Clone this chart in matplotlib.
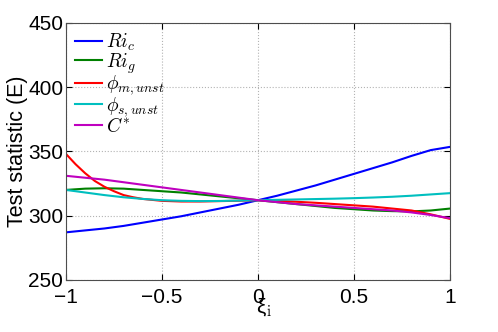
import numpy as np
import matplotlib
matplotlib.use('Agg')
import matplotlib.pyplot as plt

plt.rcParams['font.family'] = ['Liberation Sans', 'DejaVu Sans']
plt.rcParams['mathtext.fontset'] = 'cm'

# values
xi = [-1.0, -0.9, -0.8, -0.7, -0.6, -0.5, -0.4, -0.3, -0.2, -0.1, 0.0,
      0.1, 0.2, 0.3, 0.4, 0.5, 0.6, 0.7, 0.8, 0.9, 1.0]
ri_c = [287, 288.5, 290, 292, 294.5, 297, 299.5, 302.5, 305.5, 308.5, 312,
        315.5, 319.5, 323.5, 328, 332.5, 337, 341.5, 346.5, 351, 353.5]
ri_g = [320, 321, 321.3, 321, 320, 319, 318, 316.5, 315, 313.5, 312,
        310.5, 309, 307.5, 306, 305, 304, 303.5, 303.3, 304, 305.5]
phi_s = [320, 318, 316, 314.3, 313, 312, 311.5, 311.3, 311.4, 311.7, 312,
         312.3, 312.6, 312.9, 313.2, 313.6, 314.1, 314.7, 315.5, 316.5, 317.5]
c_star = [331, 329.5, 328, 326, 324, 322, 320, 318, 316, 314, 312,
          310.5, 309, 308, 307, 306, 305, 304, 302.5, 300.5, 298]

xi_m = [-1.0, -0.95, -0.9, -0.85, -0.8, -0.75, -0.7, -0.65, -0.6, -0.5, -0.4,
        -0.3, -0.2, -0.1, 0.0, 0.1, 0.2, 0.3, 0.4, 0.5, 0.6, 0.7, 0.8, 0.9, 1.0]
phi_m = [348, 340, 333, 327, 322.5, 319, 316, 314.3, 313, 311.5, 311,
         311, 311.3, 311.6, 312, 311.5, 310.8, 310, 309, 308, 307, 305.5, 304, 301, 297.5]

fig = plt.figure(figsize=(4.98, 3.32), dpi=100)
ax = fig.add_axes([0.1325, 0.157, 0.771, 0.774])

lw = 1.5
ax.plot(xi, ri_c, color='#0000ff', lw=lw, label=r'$Ri_c$')
ax.plot(xi, ri_g, color='#008000', lw=lw, label=r'$Ri_g$')
ax.plot(xi_m, phi_m, color='#ff0000', lw=lw, label=r'$\phi_{m,unst}$')
ax.plot(xi, phi_s, color='#00bfbf', lw=lw, label=r'$\phi_{s,unst}$')
ax.plot(xi, c_star, color='#bf00bf', lw=lw, label=r'$C^{*}$')

ax.set_xlim(-1, 1)
ax.set_ylim(250, 450)
ax.set_xticks([-1, -0.5, 0, 0.5, 1])
ax.set_xticklabels(['\u22121', '\u22120.5', '0', '0.5', '1'])
ax.set_yticks([250, 300, 350, 400, 450])
ax.tick_params(direction='in', labelsize=15, length=4, top=True, right=True)
ax.tick_params(axis='x', pad=6)
ax.tick_params(axis='y', pad=2)
for s in ax.spines.values():
    s.set_linewidth(0.8)
    s.set_color('0.3')

ax.grid(True, linestyle=':', color='0.7', linewidth=0.8)
ax.set_axisbelow(True)

# xlabel sits right under the "0" tick label, as in the reference
ax.set_xlabel('\u03be$_\\mathrm{i}$', fontsize=15)
ax.xaxis.set_label_coords(0.515, -0.065)
ax.set_ylabel('Test statistic (E)', fontsize=15.5, labelpad=0)

ax.legend(loc='upper left', frameon=False, fontsize=14, handlelength=1.4,
          handletextpad=0.2, labelspacing=-0.1, borderaxespad=0.35,
          borderpad=0.1)

fig.savefig('out.png', dpi=100)
